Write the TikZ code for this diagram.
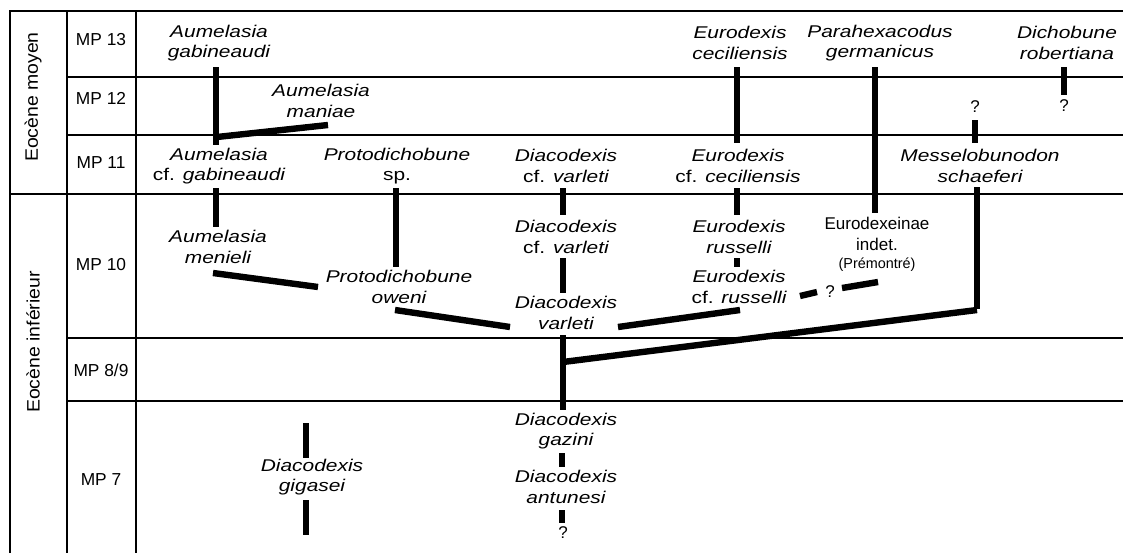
\documentclass[tikz,border=0pt]{standalone}
\usepackage{fontspec}
\setmainfont{Liberation Sans}
\newfontfamily\labfont[FakeStretch=1.23]{Liberation Sans}
\newfontfamily\erafont[FakeStretch=1.08]{Liberation Sans}
\newcommand{\tx}[1]{{\itshape #1}}
\begin{document}
\begin{tikzpicture}[x=0.75pt,y=-0.75pt,
  lab/.style={font=\labfont\fontsize{12.75}{15.5}\selectfont, align=center, inner sep=0pt},
  mp/.style={font=\fontsize{13}{15}\selectfont, inner sep=0pt},
  era/.style={font=\erafont\fontsize{13.5}{16}\selectfont, inner sep=0pt, rotate=90},
  qm/.style={font=\fontsize{12.75}{15}\selectfont, inner sep=0pt},
  br/.style={line width=4.1pt},
  sl/.style={line width=4.8pt},
  gridline/.style={line width=1.1pt},
  frameline/.style={line width=1.7pt}]
\useasboundingbox (0,0) rectangle (1123,553);
% frame and grid
\draw[frameline] (10,553) -- (10,11) -- (1123,11);
\draw[frameline] (136,11) -- (136,553);
\draw[gridline] (67,11) -- (67,553);
\draw[gridline] (67,77) -- (1123,77);
\draw[gridline] (67,135) -- (1123,135);
\draw[frameline] (10,194) -- (1123,194);
\draw[gridline] (67,338) -- (1123,338);
\draw[gridline] (67,401) -- (1123,401);
% era labels
\node[era] (em) at (33,97) {Eocène moyen};
\node[era] (ei) at (33,342) {Eocène inférieur};
% MP labels
\node[mp] (mp13) at (101,40) {MP 13};
\node[mp] (mp12) at (101,98) {MP 12};
\node[mp] (mp11) at (101,163) {MP 11};
\node[mp] (mp10) at (101,265) {MP 10};
\node[mp] (mp89) at (101,370) {MP 8/9};
\node[mp] (mp7) at (101,480) {MP 7};
% taxa
\node[lab] (gab) at (219,43) {\tx{Aumelasia}\\\tx{gabineaudi}};
\node[lab] (man) at (321,101) {\tx{Aumelasia}\\\tx{maniae}};
\node[lab] (cfgab) at (219,166) {\tx{Aumelasia}\\cf. \tx{gabineaudi}};
\node[lab] (protosp) at (397,166) {\tx{Protodichobune}\\sp.};
\node[lab] (dcfv1) at (566,166) {\tx{Diacodexis}\\cf. \tx{varleti}};
\node[lab] (ecfc) at (738,166) {\tx{Eurodexis}\\cf. \tx{ceciliensis}};
\node[lab] (mess) at (980,166) {\tx{Messelobunodon}\\\tx{schaeferi}};
\node[lab] (ececi) at (740,43) {\tx{Eurodexis}\\\tx{ceciliensis}};
\node[lab] (para) at (880,43) {\tx{Parahexacodus}\\\tx{germanicus}};
\node[lab] (dich) at (1067,43) {\tx{Dichobune}\\\tx{robertiana}};
\node[lab] (men) at (218,247) {\tx{Aumelasia}\\\tx{menieli}};
\node[lab] (oweni) at (399,287) {\tx{Protodichobune}\\\tx{oweni}};
\node[lab] (dcfv2) at (566,237) {\tx{Diacodexis}\\cf. \tx{varleti}};
\node[lab] (dvar) at (566,313) {\tx{Diacodexis}\\\tx{varleti}};
\node[lab] (erus) at (739,237) {\tx{Eurodexis}\\\tx{russelli}};
\node[lab] (ecfr) at (739,287) {\tx{Eurodexis}\\cf. \tx{russelli}};
\node[font=\fontsize{12.75}{15.5}\selectfont, align=center, inner sep=0pt] (eind) at (877,234) {Eurodexeinae\\indet.};
\node[font=\fontsize{10.8}{12}\selectfont, inner sep=0pt] (prem) at (877,265) {(Prémontré)};
\node[lab] (gig) at (312,477) {\tx{Diacodexis}\\\tx{gigasei}};
\node[lab] (gaz) at (566,431) {\tx{Diacodexis}\\\tx{gazini}};
\node[lab] (ant) at (566,487) {\tx{Diacodexis}\\\tx{antunesi}};
\node[qm] (q1) at (975,107) {?};
\node[qm] (q2) at (1064,106) {?};
\node[qm] (q3) at (830,292) {?};
\node[qm] (q4) at (563,533) {?};
% branch coordinates
\coordinate (a1) at (216,67);  \coordinate (a2) at (216,145);
\coordinate (a3) at (217,137); \coordinate (a4) at (328,125);
\coordinate (b1) at (216,188); \coordinate (b2) at (216,227);
\coordinate (c1) at (396,188); \coordinate (c2) at (396,267);
\coordinate (d1) at (213,273); \coordinate (d2) at (318,287);
\coordinate (e1) at (395,310); \coordinate (e2) at (510,327);
\coordinate (f1) at (563,188); \coordinate (f2) at (563,215);
\coordinate (f3) at (563,258); \coordinate (f4) at (563,293);
\coordinate (f5) at (563,335); \coordinate (f6) at (563,410);
\coordinate (g1) at (563,362); \coordinate (g2) at (977,310);
\coordinate (h1) at (977,187);
\coordinate (i1) at (618,327); \coordinate (i2) at (740,310);
\coordinate (j1) at (737,67);  \coordinate (j2) at (737,143);
\coordinate (j3) at (737,188); \coordinate (j4) at (737,215);
\coordinate (j5) at (737,258); \coordinate (j6) at (737,267);
\coordinate (k1) at (875,67);  \coordinate (k2) at (875,213);
\coordinate (l1) at (975,120); \coordinate (l2) at (975,143);
\coordinate (m1) at (1064,67); \coordinate (m2) at (1064,95);
\coordinate (n1) at (800,296); \coordinate (n2) at (817,292);
\coordinate (n3) at (842,288); \coordinate (n4) at (878,282);
\coordinate (o1) at (306,423); \coordinate (o2) at (306,458);
\coordinate (o3) at (306,500); \coordinate (o4) at (306,535);
\coordinate (p1) at (562,453); \coordinate (p2) at (562,467);
\coordinate (p3) at (562,510); \coordinate (p4) at (562,523);
% branches
\draw[br] (a1) -- (a2);
\draw[sl] (a3) -- (a4);
\draw[br] (b1) -- (b2);
\draw[br] (c1) -- (c2);
\draw[sl] (d1) -- (d2);
\draw[sl] (e1) -- (e2);
\draw[br] (f1) -- (f2);
\draw[br] (f3) -- (f4);
\draw[br] (f5) -- (f6);
\draw[sl] (g1) -- (g2);
\draw[br] (h1) -- ([yshift=1pt]g2);
\draw[sl] (i1) -- (i2);
\draw[br] (j1) -- (j2);
\draw[br] (j3) -- (j4);
\draw[br] (j5) -- (j6);
\draw[br] (k1) -- (k2);
\draw[br] (l1) -- (l2);
\draw[br] (m1) -- (m2);
\draw[sl] (n1) -- (n2);
\draw[sl] (n3) -- (n4);
\draw[br] (o1) -- (o2);
\draw[br] (o3) -- (o4);
\draw[br] (p1) -- (p2);
\draw[br] (p3) -- (p4);
\end{tikzpicture}
\end{document}
